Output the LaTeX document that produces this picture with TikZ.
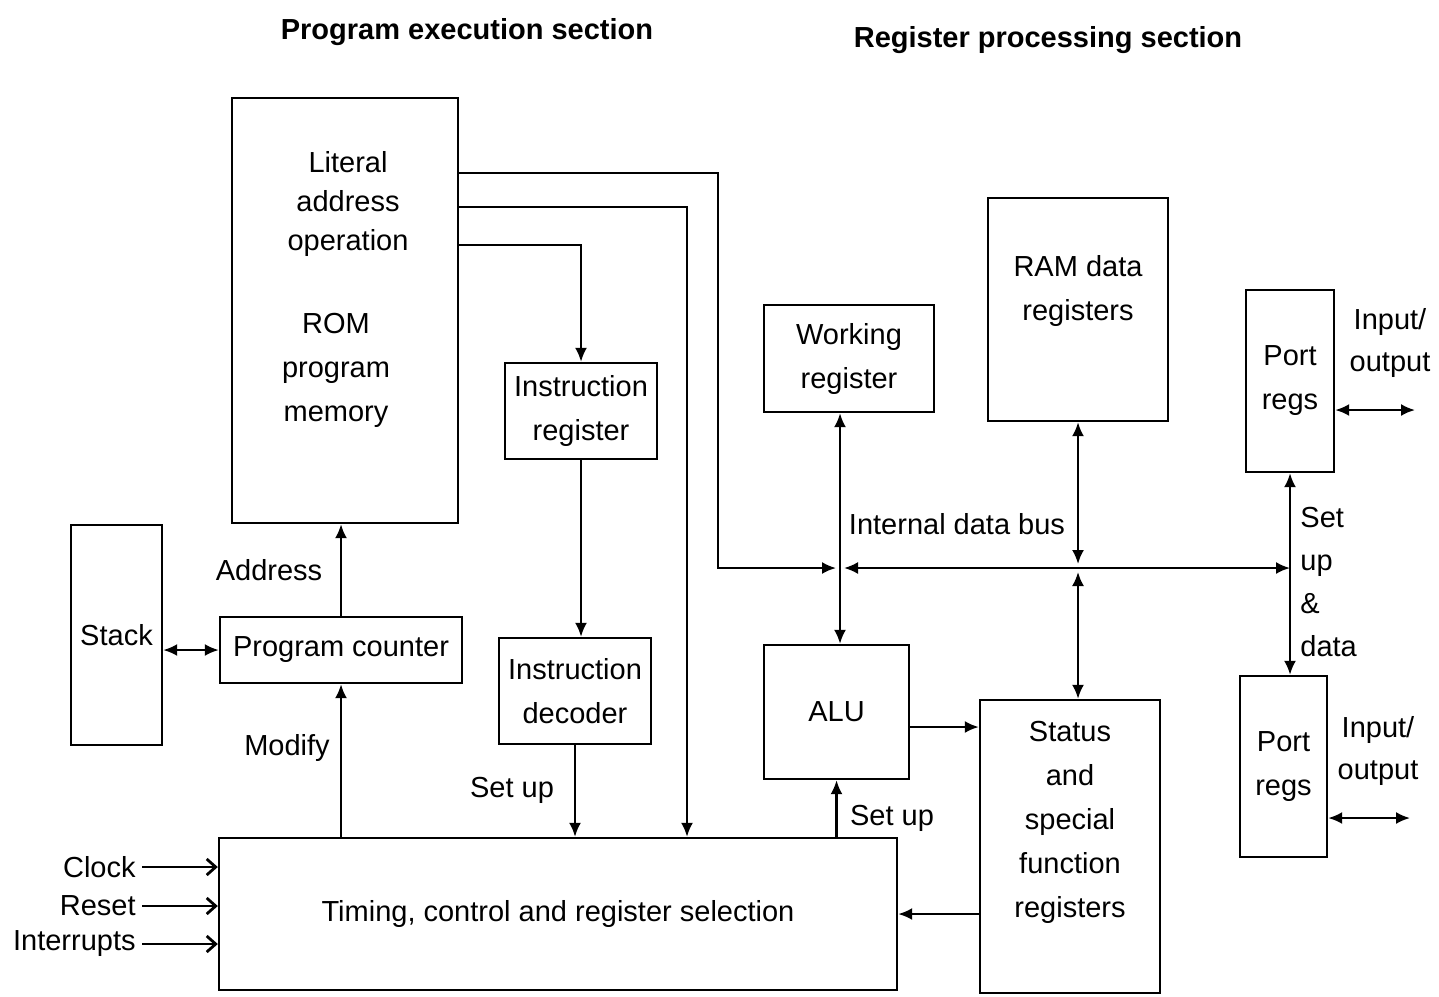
\documentclass[tikz,border=0pt]{standalone}
\usepackage{fontspec}
\setmainfont{Liberation Sans}
\usetikzlibrary{arrows.meta}

\begin{document}
\begin{tikzpicture}[x=0.5pt,y=-0.5pt,
  font=\fontsize{14.5}{22}\selectfont,
  blk/.style={draw, line width=1.2pt, inner sep=0pt, align=center},
  txt/.style={align=center, inner sep=1pt},
  arr/.style={line width=1.1pt, -{Latex[length=7pt,width=6pt]}},
  darr/.style={line width=1.1pt, {Latex[length=7pt,width=6pt]}-{Latex[length=7pt,width=6pt]}},
  inarr/.style={line width=1.4pt, -{Straight Barb[length=4.5pt,width=8pt]}}]

\useasboundingbox (0,0) rectangle (1439,996);

%Titoli delle due sezioni
\node[txt, font=\fontsize{14.5}{22}\selectfont\bfseries] (tit1) at (467,32) {Program execution section};
\node[txt, font=\fontsize{14.5}{22}\selectfont\bfseries] (tit2) at (1048,40) {Register processing section};

%Blocchi della sezione di esecuzione
\node[blk, minimum width=113pt, minimum height=212.5pt] (rom) at (345,310.5) {};
\node[txt, font=\fontsize{14.5}{19.5}\selectfont] (lit) at (348,204) {Literal\\address\\operation};
\node[txt] (romtxt) at (336,370) {ROM\\program\\memory};
\node[blk, minimum width=76pt, minimum height=48pt] (ir) at (581,411) {Instruction\\register};
\node[blk, minimum width=76pt, minimum height=53pt] (dec) at (575,691) {Instruction\\decoder};
\node[blk, minimum width=45.5pt, minimum height=110pt] (stack) at (116.5,635) {Stack};
\node[blk, minimum width=121pt, minimum height=33pt] (pc) at (341,650) {Program counter};
\node[blk, minimum width=339pt, minimum height=76pt] (tim) at (558,914) {Timing, control and register selection};

%Blocchi della sezione dei registri
\node[blk, minimum width=85pt, minimum height=53.5pt] (wr) at (849,358.5) {Working\\register};
\node[blk, minimum width=90pt, minimum height=111.5pt] (ram) at (1078,309.5) {};
\node[txt] (ramtxt) at (1078,291) {RAM data\\registers};
\node[blk, minimum width=44pt, minimum height=91pt] (porta) at (1290,381) {Port\\regs};
\node[blk, minimum width=43.5pt, minimum height=90.5pt] (portb) at (1283.5,766.5) {Port\\regs};
\node[blk, minimum width=72.5pt, minimum height=67pt] (alu) at (836.5,712) {ALU};
\node[blk, minimum width=90pt, minimum height=146.5pt] (stat) at (1070,846.5) {};
\node[txt] (stattxt) at (1070,822) {Status\\and\\special\\function\\registers};

%Punti di appoggio per le linee
\coordinate (ra) at (718,173);
\coordinate (rb) at (687,207);
\coordinate (rc) at (579,245);
\coordinate (jw) at (840,568);
\coordinate (jr) at (ram.south |- jw);
\coordinate (ya) at (0,727);
\coordinate (ioa) at (1415,410);
\coordinate (iob) at (1410,818);

%Linee dalla ROM
\draw[arr] (rom.east |- ra) -- (ra) |- ([xshift=-2pt]jw);
\draw[arr] (rom.east |- rb) -- (rb) -- (rb |- tim.north);
\draw[arr] (rom.east |- rc) -| (ir.north);

%Linee della sezione di esecuzione
\draw[arr] (ir.south) -- (ir.south |- dec.north);
\draw[arr] (dec.south) -- (dec.south |- tim.north);
\draw[arr] (pc.south |- tim.north) -- (pc.south);
\draw[arr] (pc.north) -- (pc.north |- rom.south);
\draw[darr] (stack.east |- pc.west) -- (pc.west);

%Bus interno e registri
\draw[darr] ([xshift=2pt]jw) -- (porta.south |- jw);
\draw[darr] (wr.south -| jw) -- (alu.north -| jw);
\draw[darr] (ram.south) -- ([yshift=2pt]jr);
\draw[darr] ([yshift=-2pt]jr) -- (jr |- stat.north);
\draw[arr] (alu.east |- ya) -- (stat.west |- ya);
\draw[arr] (stat.west |- tim.east) -- (tim.east);
\draw[arr] (alu.south |- tim.north) -- (alu.south);
\draw[darr] (porta.south) -- (porta.south |- portb.north);
\draw[darr] (porta.east |- ioa) -- (ioa);
\draw[darr] (portb.east |- iob) -- (iob);

%Ingressi
\node[txt, anchor=east, inner sep=3pt] (clk) at (142,867) {Clock};
\node[txt, anchor=east, inner sep=3pt] (rst) at (142,906) {Reset};
\node[txt, anchor=east, inner sep=3pt] (irq) at (142,944) {Interrupts};
\draw[inarr] (clk.east) -- (tim.west |- clk.east);
\draw[inarr] (rst.east) -- (tim.west |- rst.east);
\draw[inarr] (irq.east) -- (tim.west |- irq.east);

%Etichette
\node[txt] (addr) at (269,570) {Address};
\node[txt] (mod) at (287,748) {Modify};
\node[txt] (setup1) at (512,790) {Set up};
\node[txt] (setup2) at (892,818) {Set up};
\node[txt] (bus) at (957,524) {Internal data bus};
\node[txt, align=left, anchor=west, font=\fontsize{14.5}{21.5}\selectfont] (sud) at (1298,582) {Set\\up\\\&\\data};
\node[txt, font=\fontsize{14.5}{21}\selectfont] (ioat) at (1390,343) {Input/\\output};
\node[txt, font=\fontsize{14.5}{21}\selectfont] (iobt) at (1378,751) {Input/\\output};

\end{tikzpicture}
\end{document}
